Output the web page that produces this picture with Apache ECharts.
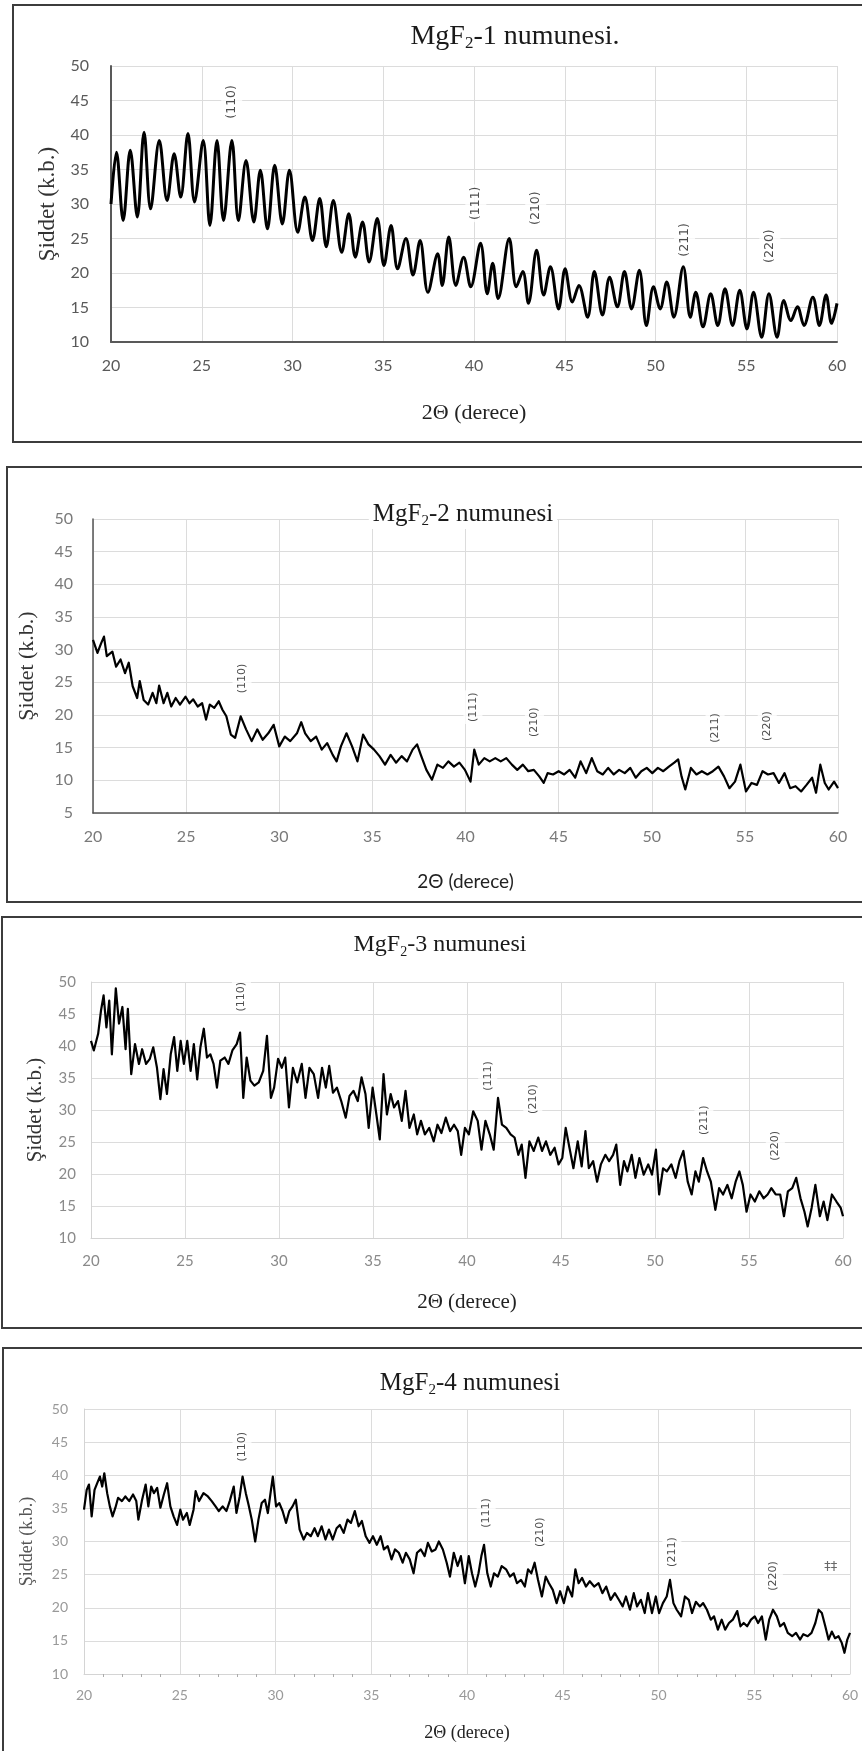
<!DOCTYPE html>
<html>
<head>
<meta charset="utf-8">
<title>MgF2 XRD</title>
<script src="https://cdn.jsdelivr.net/npm/echarts@6/dist/echarts.min.js"></script>
<style>
  html, body { margin: 0; padding: 0; background: #fff; }
  #chart { width: 862px; height: 1751px; }
</style>
</head>
<body>
<div id="chart"></div>
<script>
// 2θ (derece) and Şiddet (k.b.)
const p1x = [20.0,20.3,20.67,21.06,21.45,21.82,22.18,22.66,23.09,23.48,23.84,24.24,24.6,25.08,25.45,25.84,26.2,26.66,27.02,27.44,27.87,28.23,28.62,29.02,29.44,29.83,30.29,30.68,31.1,31.5,31.86,32.25,32.71,33.1,33.46,33.86,34.22,34.67,35.04,35.43,35.79,36.25,36.64,37.03,37.46,38.0,38.25,38.61,39.0,39.43,39.82,40.36,40.73,41.03,41.33,41.94,42.33,42.69,43.0,43.45,43.84,44.21,44.66,45.02,45.42,45.78,46.26,46.63,47.08,47.47,47.9,48.29,48.68,49.11,49.5,49.89,50.26,50.62,51.01,51.53,51.92,52.22,52.62,53.04,53.43,53.83,54.25,54.64,55.04,55.4,55.85,56.25,56.7,57.07,57.46,57.82,58.18,58.67,59.03,59.4,59.7,60.0];
const p1y = [30,37.5,27.6,37.8,28.1,40.4,29.3,39.2,30.5,37.3,31.0,40.2,30.3,39.2,26.9,39.2,27.6,39.2,27.6,36.3,27.4,34.9,26.4,35.6,27.1,34.9,25.9,31.0,24.7,30.8,23.8,30.5,23.0,28.6,22.3,27.4,21.6,27.9,21.1,26.9,20.6,25.0,19.7,24.7,17.2,22.8,18.2,25.2,18.2,22.3,18.0,24.3,17.0,21.4,16.3,25.0,18.0,20.2,15.6,23.3,16.8,20.9,14.8,20.6,15.8,18.2,13.6,20.2,13.9,19.4,15.1,20.2,14.8,20.4,12.4,18.0,14.8,18.7,13.6,20.9,13.6,17.2,12.2,17.0,12.4,17.7,12.4,17.5,11.9,17.2,10.7,17.0,10.7,16.0,13.1,15.1,12.4,16.5,12.4,16.8,12.7,15.6];

const p2x = [20.0,20.24,20.44,20.59,20.74,21.04,21.24,21.48,21.72,21.92,22.13,22.37,22.51,22.72,22.96,23.2,23.4,23.55,23.79,23.99,24.2,24.44,24.67,24.97,25.18,25.38,25.62,25.86,26.07,26.27,26.51,26.75,26.95,27.16,27.4,27.63,27.93,28.22,28.52,28.82,29.11,29.41,29.7,30.0,30.3,30.59,30.95,31.18,31.39,31.69,31.98,32.28,32.57,32.87,33.08,33.31,33.61,33.91,34.2,34.5,34.79,35.09,35.38,35.68,35.98,36.27,36.57,36.86,37.16,37.4,37.6,37.9,38.2,38.49,38.79,39.08,39.38,39.67,39.97,40.27,40.47,40.71,41.01,41.3,41.6,41.89,42.19,42.49,42.78,43.08,43.37,43.67,43.96,44.2,44.41,44.7,45.0,45.3,45.59,45.89,46.18,46.48,46.78,47.07,47.37,47.66,47.96,48.25,48.55,48.85,49.14,49.44,49.73,50.03,50.33,50.62,50.92,51.21,51.42,51.6,51.8,52.1,52.4,52.69,52.99,53.28,53.58,53.88,54.17,54.47,54.76,55.06,55.36,55.65,55.95,56.24,56.54,56.83,57.13,57.43,57.72,58.02,58.31,58.61,58.82,59.05,59.29,59.5,59.79,60.0];
const p2y = [31.5,29.5,31,32,29,29.7,27.4,28.5,26.4,28,24.4,22.6,25.2,22.3,21.6,23.4,21.8,24.5,21.8,23.4,21.3,22.6,21.6,22.8,21.8,22.4,21.3,21.8,19.3,21.6,21.1,22.1,20.8,19.8,17.0,16.5,19.8,17.8,16.0,17.8,16.2,17.2,18.5,15.2,16.7,16.0,17.2,18.9,17.2,16.0,16.7,14.7,15.7,13.9,12.9,15.2,17.2,15.2,12.9,17.0,15.5,14.7,13.7,12.4,13.9,12.7,13.7,12.9,14.7,15.5,13.9,11.6,10.1,12.4,11.9,12.9,12.1,12.7,11.6,9.8,14.7,12.4,13.4,12.9,13.4,12.9,13.4,12.4,11.6,12.4,11.4,11.6,10.6,9.6,11.1,10.9,11.4,10.9,11.6,10.4,12.9,11.1,13.4,11.4,10.9,11.9,10.9,11.6,11.1,11.9,10.4,11.4,11.9,11.1,11.9,11.4,12.1,12.7,13.2,10.6,8.6,11.9,10.9,11.4,10.9,11.4,12.1,10.6,8.8,9.8,12.4,8.3,9.6,9.3,11.4,10.9,11.1,9.6,11.1,8.8,9.1,8.3,9.3,10.4,8.1,12.4,9.6,8.6,9.8,8.8];

const p3x = [20,20.15,20.38,20.53,20.67,20.82,20.97,21.11,21.32,21.49,21.67,21.84,21.96,22.14,22.34,22.55,22.72,22.93,23.13,23.31,23.51,23.69,23.86,24.04,24.24,24.42,24.59,24.77,24.94,25.12,25.3,25.47,25.65,25.82,26.0,26.17,26.35,26.52,26.7,26.88,27.11,27.31,27.52,27.75,27.93,28.1,28.28,28.48,28.69,28.92,29.16,29.36,29.57,29.74,29.95,30.15,30.33,30.53,30.74,30.97,31.21,31.41,31.62,31.85,32.08,32.29,32.49,32.67,32.87,33.08,33.31,33.55,33.75,33.96,34.19,34.39,34.6,34.77,34.98,35.18,35.36,35.56,35.74,35.94,36.12,36.33,36.53,36.73,36.94,37.17,37.35,37.55,37.76,37.99,38.23,38.43,38.64,38.87,39.1,39.31,39.51,39.69,39.89,40.1,40.33,40.57,40.77,40.98,41.21,41.42,41.65,41.86,42.09,42.32,42.53,42.73,42.91,43.11,43.32,43.55,43.79,43.99,44.2,44.43,44.66,44.87,45.07,45.25,45.45,45.66,45.89,46.1,46.3,46.48,46.71,46.92,47.12,47.36,47.56,47.77,47.94,48.15,48.35,48.53,48.76,48.96,49.17,49.4,49.64,49.84,50.05,50.22,50.43,50.63,50.87,51.1,51.3,51.51,51.74,51.95,52.15,52.33,52.56,52.77,52.97,53.21,53.41,53.62,53.85,54.08,54.29,54.49,54.67,54.87,55.08,55.31,55.55,55.78,55.99,56.19,56.42,56.66,56.86,57.07,57.3,57.51,57.74,57.95,58.12,58.33,58.53,58.77,58.97,59.17,59.41,59.65,59.88,60.0];
const p3y = [40.8,39.3,41.9,45.5,47.9,42.9,47.1,38.7,49.0,43.5,46.1,39.5,45.8,35.6,40.3,37.2,39.5,37.2,38.0,39.8,36.6,31.7,36.4,32.5,38.7,41.4,36.1,40.8,37.2,40.8,36.1,40.3,34.8,39.8,42.7,38.2,38.7,37.2,33.5,37.7,38.2,37.2,39.3,40.3,42.1,31.9,38.2,34.6,33.8,34.3,36.1,41.6,31.9,33.5,38.0,36.6,38.2,30.4,36.6,34.3,37.2,31.9,36.6,35.6,31.9,36.6,33.5,36.9,32.7,33.5,31.4,28.8,32.2,33.0,31.4,35.1,32.5,27.2,33.5,29.3,25.4,35.6,29.3,32.5,30.4,31.4,28.3,33.0,27.2,29.3,26.2,28.3,26.2,27.2,25.1,27.7,26.4,28.8,26.7,27.7,26.7,23.0,27.2,26.2,29.8,28.3,23.8,28.3,26.2,23.8,31.9,27.7,27.2,26.2,25.7,23.0,24.6,19.4,25.1,23.6,25.7,23.6,25.1,23.0,24.1,21.5,22.5,27.2,24.1,20.9,25.1,21.2,26.7,20.9,22.0,18.8,21.5,23.0,22.0,23.0,24.6,18.3,22.0,20.4,23.0,19.4,22.5,19.9,21.5,19.9,23.8,16.8,20.9,20.4,21.5,19.4,22.0,23.6,18.8,16.8,20.4,18.8,22.5,20.4,18.8,14.4,17.8,16.8,18.3,16.2,18.8,20.4,18.3,14.1,16.8,15.7,17.3,16.2,16.8,17.8,16.8,16.8,13.4,17.3,17.8,19.4,16.2,14.1,11.8,14.7,18.3,13.4,15.7,12.8,16.8,15.7,14.7,13.4];

const p4x = [20.0,20.14,20.26,20.4,20.55,20.69,20.83,20.95,21.06,21.21,21.35,21.49,21.64,21.78,21.98,22.16,22.36,22.56,22.73,22.84,23.02,23.22,23.36,23.51,23.65,23.82,23.99,24.17,24.34,24.51,24.68,24.86,25.03,25.17,25.37,25.52,25.72,25.83,26.01,26.24,26.47,26.67,26.87,27.04,27.24,27.44,27.61,27.82,27.96,28.13,28.28,28.45,28.59,28.76,28.94,29.11,29.28,29.45,29.6,29.74,29.86,30.03,30.2,30.37,30.55,30.72,30.89,31.06,31.26,31.47,31.64,31.84,32.04,32.21,32.41,32.61,32.79,32.99,33.19,33.36,33.56,33.76,33.94,34.14,34.34,34.51,34.71,34.91,35.09,35.29,35.49,35.66,35.86,36.06,36.24,36.44,36.64,36.81,37.01,37.21,37.39,37.59,37.79,37.96,38.16,38.36,38.53,38.74,38.94,39.11,39.31,39.51,39.68,39.89,40.09,40.26,40.43,40.6,40.75,40.89,41.06,41.24,41.41,41.61,41.81,42.04,42.24,42.44,42.61,42.82,43.02,43.19,43.36,43.53,43.71,43.91,44.11,44.28,44.48,44.68,44.86,45.06,45.26,45.49,45.66,45.83,46.01,46.21,46.41,46.64,46.87,47.07,47.27,47.5,47.72,47.93,48.13,48.3,48.51,48.71,48.88,49.08,49.28,49.45,49.66,49.86,50.03,50.23,50.43,50.6,50.78,50.95,51.18,51.38,51.58,51.75,51.95,52.16,52.33,52.53,52.73,52.9,53.1,53.3,53.48,53.68,53.88,54.11,54.28,54.45,54.63,54.83,55.03,55.2,55.4,55.6,55.78,55.98,56.18,56.35,56.55,56.75,56.98,57.18,57.39,57.56,57.79,57.99,58.19,58.36,58.53,58.71,58.88,59.05,59.22,59.4,59.57,59.71,59.86,60.0];
const p4y = [34.8,37.8,38.6,33.8,37.8,38.8,39.8,38.3,40.3,37.3,35.3,33.8,35.1,36.6,36.1,36.8,36.1,37.1,36.1,33.3,36.1,38.6,35.3,38.3,37.3,38.1,35.1,37.1,38.8,35.3,33.8,32.5,34.8,33.3,34.3,32.5,34.8,37.6,36.1,37.3,36.8,36.1,35.3,34.6,35.3,34.6,36.1,38.3,34.3,36.8,39.8,37.3,35.6,33.3,30.0,33.3,35.8,36.3,34.3,37.3,39.8,35.3,35.8,34.6,32.8,34.6,35.3,36.3,31.8,30.3,31.3,30.8,32.0,30.8,32.3,30.3,31.8,30.3,32.0,32.5,31.3,33.3,32.8,34.6,32.3,33.1,30.8,29.8,30.8,29.5,30.8,28.8,29.3,27.3,28.8,28.3,26.8,28.3,27.3,25.2,28.3,28.8,27.8,29.8,28.5,28.8,30.0,28.8,26.8,24.7,28.3,26.3,27.8,23.7,27.8,25.2,23.2,25.2,27.8,29.5,25.2,23.2,25.2,24.7,26.3,25.8,24.7,25.2,23.7,24.2,23.2,25.8,25.2,26.8,24.2,21.7,24.7,23.7,22.7,20.7,22.5,20.7,23.2,21.7,25.8,23.7,24.5,23.2,24.0,23.2,23.7,22.2,23.2,21.2,22.2,21.2,20.2,21.7,19.7,22.2,20.2,21.2,19.2,22.2,19.2,21.7,19.2,20.7,21.7,24.2,20.7,19.7,18.7,21.7,21.2,19.2,20.9,20.2,20.7,19.7,18.2,18.7,16.7,18.2,16.7,17.7,18.2,19.5,17.2,17.7,17.2,18.2,18.7,17.7,18.7,15.2,18.2,19.7,18.7,17.2,17.7,16.2,15.7,16.2,15.2,16.0,15.7,16.2,17.7,19.7,19.2,17.2,15.2,16.4,15.4,15.7,14.7,13.2,15.2,16.2];

// Miller index labels and where they sit (2θ, intensity)
const hklNames = ['(110)', '(111)', '(210)', '(211)', '(220)'];
const hkl1X = [26.65, 40.1, 43.4, 51.6, 56.3];
const hkl1Y = [44.8, 30.1, 29.4, 24.8, 23.9];
const hkl2X = [28.0, 40.4, 43.7, 53.4, 56.2];
const hkl2Y = [25.6, 21.2, 18.9, 18.0, 18.3];
const hkl3X = [28.0, 41.1, 43.5, 52.6, 56.4];
const hkl3Y = [47.7, 35.3, 31.7, 28.4, 24.4];
const hkl4X = [28.25, 41.0, 43.8, 50.7, 56.0];
const hkl4Y = [44.3, 34.3, 31.4, 28.4, 24.8];
const extra4 = ['‡‡'];
const extra4X = [59.0];
const extra4Y = [26.2];

const sampleNums = ['1', '2', '3', '4'];
const yMins = [10, 5, 10, 10];
const xTicks = [20, 60, 5];

const zip = (a, b) => a.map((v, i) => [v, b[i]]);

// look of each panel
const panels = [
  { grid: { left: 111, top: 66, width: 726, height: 276 }, line: 3, labCol: '#595959', labSize: 16,
    axisCol: '#595959', axisW: 2, yGap: 51, yName: 23, xGap: 60, xName: 22, titleX: 511, titleTop: 21, titleSize: 28, dot: '.',
    hkl: [hkl1X, hkl1Y], hklSize: 12.5, xMargin: 16, yMargin: 22 },
  { grid: { left: 93, top: 519, width: 745, height: 294 }, line: 2.2, labCol: '#7a7a7a', labSize: 16,
    axisCol: '#555', axisW: 1.5, yGap: 55, yName: 22, xGap: 59, xName: 19, titleX: 459, titleTop: 500, titleSize: 25, dot: '',
    hkl: [hkl2X, hkl2Y], hklSize: 11, xMargin: 16, yMargin: 20 },
  { grid: { left: 91, top: 982, width: 752, height: 256 }, line: 2.2, labCol: '#8a8a8a', labSize: 15,
    axisCol: '#d4d4d4', axisW: 1, yGap: 45, yName: 21, xGap: 54, xName: 21, titleX: 436, titleTop: 931, titleSize: 24, dot: '',
    hkl: [hkl3X, hkl3Y], hklSize: 11, xMargin: 16, yMargin: 15 },
  { grid: { left: 84, top: 1409, width: 766, height: 265 }, line: 2.2, labCol: '#999', labSize: 14,
    axisCol: '#d4d4d4', axisW: 1, yGap: 48, yName: 18, xGap: 50, xName: 18, titleX: 466, titleTop: 1369, titleSize: 25, dot: '',
    hkl: [hkl4X, hkl4Y], hklSize: 11, xMargin: 14, yMargin: 16, minor: true },
];
const lines = [[p1x, p1y], [p2x, p2y], [p3x, p3y], [p4x, p4y]];

const serif = 'Liberation Serif';
const sans = 'Lato';

const option = {
  backgroundColor: '#fff',
  animation: false,
  title: panels.map((p, i) => ({
    text: '{t|MgF}{s|2}{t|-' + sampleNums[i] + ' numunesi' + p.dot + '}',
    left: p.titleX,
    top: p.titleTop,
    textAlign: 'center',
    padding: [0, 4],
    backgroundColor: '#fff',
    z: 4,
    textStyle: {
      fontWeight: 'normal',
      rich: {
        t: { fontFamily: serif, fontSize: p.titleSize, fontWeight: 'normal', color: '#1a1a1a' },
        s: { fontFamily: serif, fontSize: Math.round(p.titleSize * 0.6), fontWeight: 'normal', color: '#1a1a1a', padding: [14, 0, 0, 0] }
      }
    }
  })),
  grid: panels.map(p => p.grid),
  xAxis: panels.map((p, i) => ({
    type: 'value',
    gridIndex: i,
    min: xTicks[0],
    max: xTicks[1],
    interval: xTicks[2],
    name: '2Θ (derece)',
    nameLocation: 'middle',
    nameGap: p.xGap,
    nameTextStyle: { fontFamily: i === 1 ? sans : serif, fontSize: p.xName, color: '#222' },
    axisLine: { show: true, lineStyle: { color: p.axisCol, width: p.axisW } },
    axisTick: { show: false },
    minorTick: p.minor ? { show: true, splitNumber: 5, length: 3, lineStyle: { color: '#aaa' } } : { show: false },
    axisLabel: { color: p.labCol, fontFamily: sans, fontSize: p.labSize, margin: p.xMargin },
    splitLine: { show: true, lineStyle: { color: '#dcdcdc', width: 1 } }
  })),
  yAxis: panels.map((p, i) => ({
    type: 'value',
    gridIndex: i,
    min: yMins[i],
    max: 50,
    interval: 5,
    name: 'Şiddet (k.b.)',
    nameLocation: 'middle',
    nameRotate: 90,
    nameGap: p.yGap,
    nameTextStyle: { fontFamily: serif, fontSize: p.yName, color: i === 3 ? '#555' : '#333' },
    axisLine: { show: true, lineStyle: { color: p.axisCol, width: p.axisW } },
    axisTick: { show: false },
    axisLabel: { color: p.labCol, fontFamily: sans, fontSize: p.labSize, margin: p.yMargin },
    splitLine: { show: true, lineStyle: { color: '#dcdcdc', width: 1 } }
  })),
  series: [
    ...lines.map((d, i) => ({
      type: 'line',
      xAxisIndex: i,
      yAxisIndex: i,
      data: zip(d[0], d[1]),
      symbol: 'none',
      smooth: i === 0 ? 0.35 : false,
      lineStyle: { color: '#000', width: panels[i].line, join: 'round' },
      z: 3
    })),
    ...panels.map((p, i) => ({
      type: 'scatter',
      xAxisIndex: i,
      yAxisIndex: i,
      symbolSize: 0,
      z: 2,
      data: p.hkl[0].map((v, k) => ({ value: [v, p.hkl[1][k]], name: hklNames[k] })),
      label: {
        show: true,
        position: 'inside',
        rotate: 90,
        formatter: '{b}',
        fontFamily: 'DejaVu Sans',
        fontSize: p.hklSize,
        color: '#222',
        backgroundColor: '#fff',
        padding: [4, 2]
      }
    })),
    {
      type: 'scatter',
      xAxisIndex: 3,
      yAxisIndex: 3,
      symbolSize: 0,
      data: extra4X.map((v, k) => ({ value: [v, extra4Y[k]], name: extra4[k] })),
      label: { show: true, position: 'inside', formatter: '{b}', fontFamily: 'DejaVu Sans', fontSize: 13, color: '#444' }
    }
  ],
  graphic: [
    { type: 'rect', shape: { x: 13, y: 5, width: 880, height: 437 }, style: { fill: 'none', stroke: '#3c3c3c', lineWidth: 2 }, z: 10 },
    { type: 'rect', shape: { x: 7, y: 467, width: 880, height: 435 }, style: { fill: 'none', stroke: '#3c3c3c', lineWidth: 2 }, z: 10 },
    { type: 'rect', shape: { x: 2, y: 917, width: 880, height: 411 }, style: { fill: 'none', stroke: '#3c3c3c', lineWidth: 2 }, z: 10 },
    { type: 'rect', shape: { x: 3, y: 1348, width: 880, height: 430 }, style: { fill: 'none', stroke: '#3c3c3c', lineWidth: 2 }, z: 10 }
  ]
};

const myChart = echarts.init(document.getElementById('chart'), null, { renderer: 'canvas' });
myChart.setOption(option);
</script>
</body>
</html>
